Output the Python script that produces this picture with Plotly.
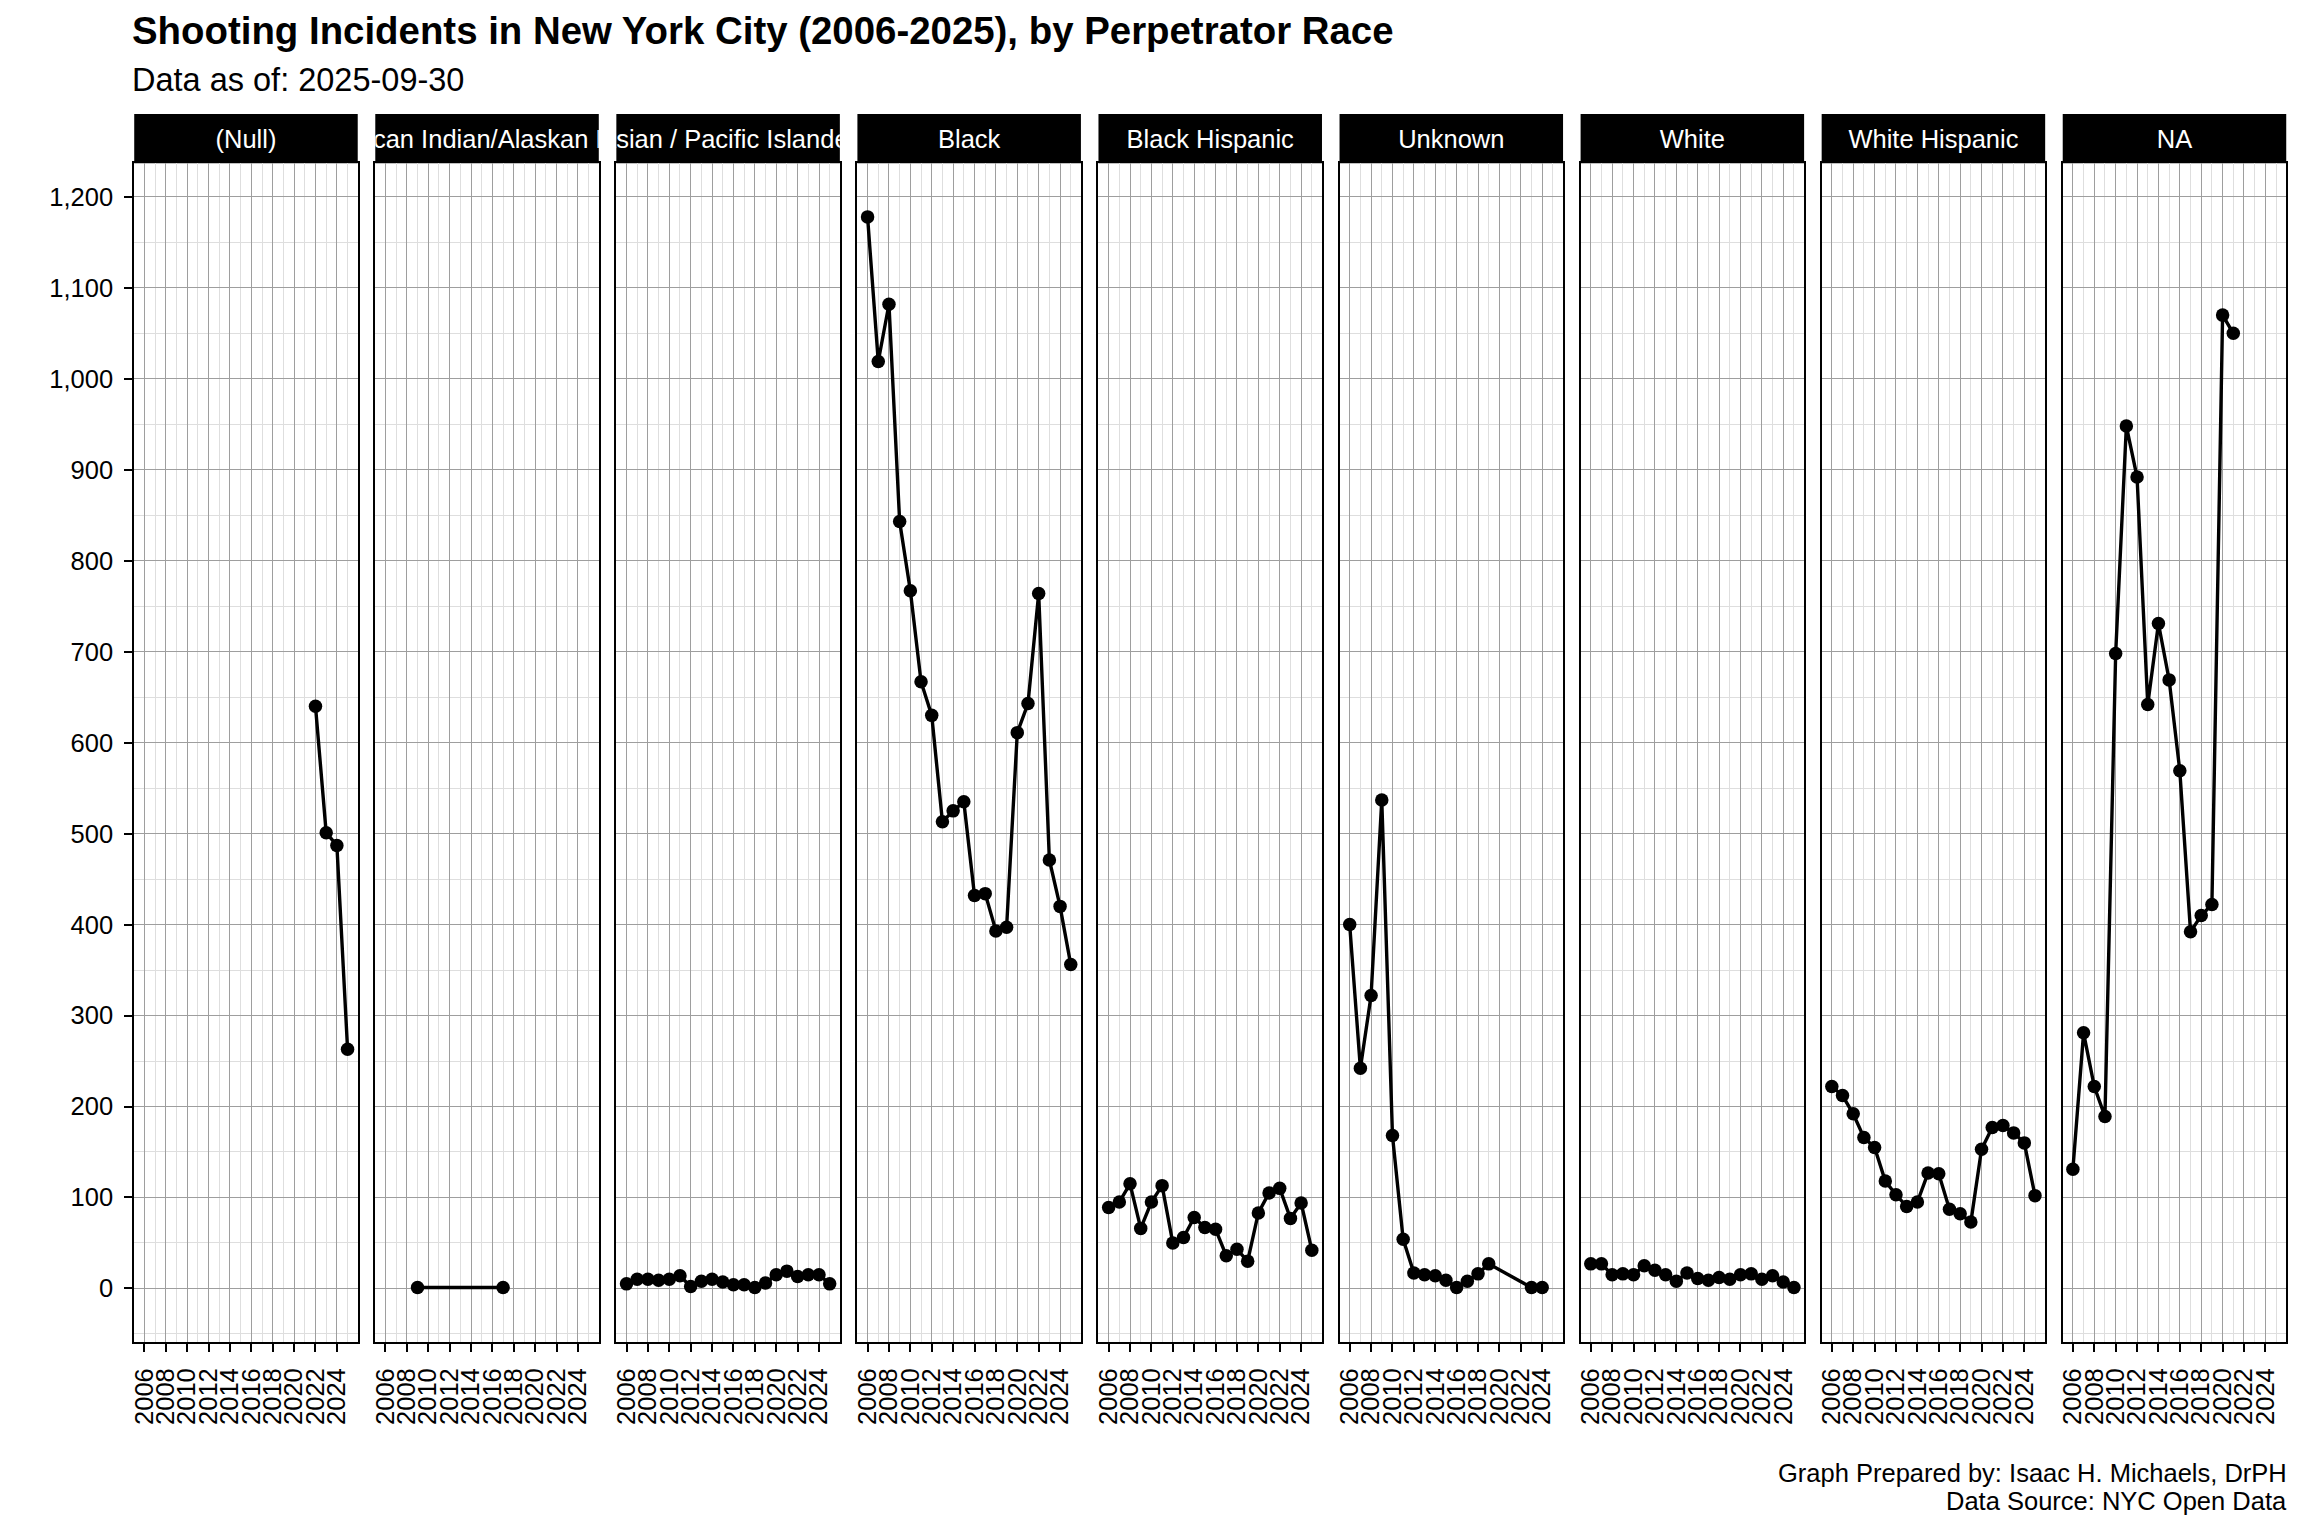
import plotly.graph_objects as go

# ---------------- data ----------------
categories = ["(Null)", "American Indian/Alaskan Native", "Asian / Pacific Islander",
              "Black", "Black Hispanic", "Unknown", "White", "White Hispanic", "NA"]

all_years = list(range(2006, 2026))

null_years = [2022, 2023, 2024, 2025]
null_vals = [640, 501, 487, 263]

amind_years = [2009, 2017]
amind_vals = [1, 1]

asian_years = all_years
asian_vals = [5, 10, 10, 9, 10, 14, 2, 8, 10, 7, 4, 4, 1, 6, 15, 19, 13, 15, 15, 5]

black_years = all_years
black_vals = [1178, 1019, 1082, 843, 767, 667, 630, 513, 525, 535,
              432, 434, 393, 397, 611, 643, 764, 471, 420, 356]

bhisp_years = all_years
bhisp_vals = [89, 95, 115, 66, 95, 113, 50, 56, 78, 67,
              65, 36, 43, 30, 83, 105, 110, 77, 94, 42]

unknown_years = [2006, 2007, 2008, 2009, 2010, 2011, 2012, 2013, 2014, 2015,
                 2016, 2017, 2018, 2019, 2023, 2024]
unknown_vals = [400, 242, 322, 537, 168, 54, 17, 15, 14, 9, 1, 8, 16, 27, 1, 1]

white_years = all_years
white_vals = [27, 27, 15, 16, 15, 25, 20, 15, 8, 17, 11, 9, 12, 10, 15, 16, 10, 14, 7, 1]

whisp_years = all_years
whisp_vals = [222, 212, 192, 166, 155, 118, 103, 90, 95, 127,
              126, 87, 82, 73, 153, 177, 179, 171, 160, 102]

na_years = list(range(2006, 2022))
na_vals = [131, 281, 222, 189, 698, 948, 892, 642, 731, 669,
           569, 392, 410, 422, 1070, 1050]

x_tick_years = list(range(2006, 2025, 2))
x_minor_years = list(range(2007, 2026, 2))
y_tick_vals = list(range(0, 1201, 100))
y_tick_text = [f"{v:,}" for v in y_tick_vals]
y_minor_vals = list(range(-50, 1201, 100))

title_text = "Shooting Incidents in New York City (2006-2025), by Perpetrator Race"
subtitle_text = "Data as of: 2025-09-30"
caption_lines = ["Graph Prepared by: Isaac H. Michaels, DrPH", "Data Source: NYC Open Data"]

series = [
    (null_years, null_vals), (amind_years, amind_vals), (asian_years, asian_vals),
    (black_years, black_vals), (bhisp_years, bhisp_vals), (unknown_years, unknown_vals),
    (white_years, white_vals), (whisp_years, whisp_vals), (na_years, na_vals),
]

# ---------------- layout geometry ----------------
W, H = 2304, 1536
FONT = "Liberation Sans, Arial, Helvetica, sans-serif"
TITLE_SIZE = 38.4
SUB_SIZE = 32.5
SMALL = 25.5

panel_left0 = 129.5
pw = 224.0
right_px = 2286.2
pitch = (right_px - pw - panel_left0) / 8
panel_top = 163.3
panel_bot = 1342.0
strip_top = 114.0

ymax_all = max(max(v) for _, v in series)
yrange = [-0.05 * ymax_all, 1.05 * ymax_all]
xrange = [2006 - 0.05 * 19, 2025 + 0.05 * 19]

MAJOR = "#9e9e9e"
MINOR = "#dedede"

fig = go.Figure()
layout = dict(
    width=W, height=H,
    margin=dict(l=0, r=0, t=0, b=0),
    paper_bgcolor="white", plot_bgcolor="white",
    showlegend=False,
    font=dict(family=FONT, color="black"),
)
shapes = []
annotations = []

n_panels = len(categories)
for i, (cat, (xs, ys)) in enumerate(zip(categories, series)):
    n = i + 1
    L = panel_left0 + i * pitch
    xdom = [L / W, (L + pw) / W]
    xk = "xaxis" if n == 1 else f"xaxis{n}"
    yk = "yaxis" if n == 1 else f"yaxis{n}"
    xr = "x" if n == 1 else f"x{n}"
    yr = "y" if n == 1 else f"y{n}"

    fig.add_trace(go.Scatter(
        x=xs, y=ys, mode="lines+markers", xaxis=xr, yaxis=yr,
        line=dict(color="black", width=3.4),
        marker=dict(color="black", size=13.5, line=dict(width=0)),
        hoverinfo="x+y", cliponaxis=True,
    ))

    layout[xk] = dict(
        domain=xdom, anchor=yr, range=xrange,
        tickmode="array", tickvals=x_tick_years, ticktext=[str(t) for t in x_tick_years],
        tickangle=-90, ticks="outside", ticklen=8, tickwidth=1.5, tickcolor="black",
        tickfont=dict(size=SMALL, color="black", family=FONT),
        ticklabelstandoff=6,
        showgrid=True, gridcolor=MAJOR, gridwidth=1,
        minor=dict(tickmode="array", tickvals=x_minor_years, showgrid=True,
                   gridcolor=MINOR, gridwidth=1, ticks=""),
        showline=True, mirror=True, linecolor="black", linewidth=2,
        zeroline=False, fixedrange=True,
    )
    ydict = dict(
        domain=[1 - panel_bot / H, 1 - panel_top / H], anchor=xr, range=yrange,
        tickmode="array", tickvals=y_tick_vals, ticktext=y_tick_text,
        showgrid=True, gridcolor=MAJOR, gridwidth=1,
        minor=dict(tickmode="array", tickvals=y_minor_vals, showgrid=True,
                   gridcolor=MINOR, gridwidth=1, ticks=""),
        showline=True, mirror=True, linecolor="black", linewidth=2,
        zeroline=False, fixedrange=True,
    )
    if n == 1:
        ydict.update(ticks="outside", ticklen=8, tickwidth=1.5, tickcolor="black",
                     showticklabels=True,
                     tickfont=dict(size=SMALL, color="black", family=FONT),
                     ticklabelstandoff=6)
    else:
        ydict.update(ticks="", showticklabels=False)
    layout[yk] = ydict

    # strip (facet label) as its own clipped subplot
    m = n + n_panels
    sxk, syk = f"xaxis{m}", f"yaxis{m}"
    sxr, syr = f"x{m}", f"y{m}"
    layout[sxk] = dict(domain=xdom, anchor=syr, range=[0, 1], visible=False, fixedrange=True)
    layout[syk] = dict(domain=[1 - panel_top / H, 1 - strip_top / H], anchor=sxr,
                       range=[0, 1], visible=False, fixedrange=True)
    shapes.append(dict(type="rect", xref="paper", yref="paper",
                       x0=xdom[0], x1=xdom[1], y0=1 - panel_top / H, y1=1 - strip_top / H,
                       fillcolor="black", line=dict(width=0), layer="below"))
    fig.add_trace(go.Scatter(
        x=[0.5], y=[0.44], mode="text", text=[cat], xaxis=sxr, yaxis=syr,
        textposition="middle center", cliponaxis=True, hoverinfo="skip",
        textfont=dict(size=SMALL, color="white", family=FONT),
    ))

annotations.append(dict(text=f"<b>{title_text}</b>", x=(panel_left0 - 4) / W, y=1 - 30 / H,
                        xref="paper", yref="paper", xanchor="left", yanchor="middle",
                        showarrow=False, font=dict(size=TITLE_SIZE, color="black", family=FONT)))
annotations.append(dict(text=subtitle_text, x=(panel_left0 - 4) / W, y=1 - 80 / H,
                        xref="paper", yref="paper", xanchor="left", yanchor="middle",
                        showarrow=False, font=dict(size=SUB_SIZE, color="black", family=FONT)))
for j, line in enumerate(caption_lines):
    annotations.append(dict(text=line, x=(right_px + 3) / W, y=1 - (1473 + 28 * j) / H,
                            xref="paper", yref="paper", xanchor="right", yanchor="middle",
                            showarrow=False, font=dict(size=SMALL, color="black", family=FONT)))

layout["shapes"] = shapes
layout["annotations"] = annotations
fig.update_layout(**layout)

fig.write_html("out.html", config={"displayModeBar": False},
               post_script="document.body.style.margin='0px';")
